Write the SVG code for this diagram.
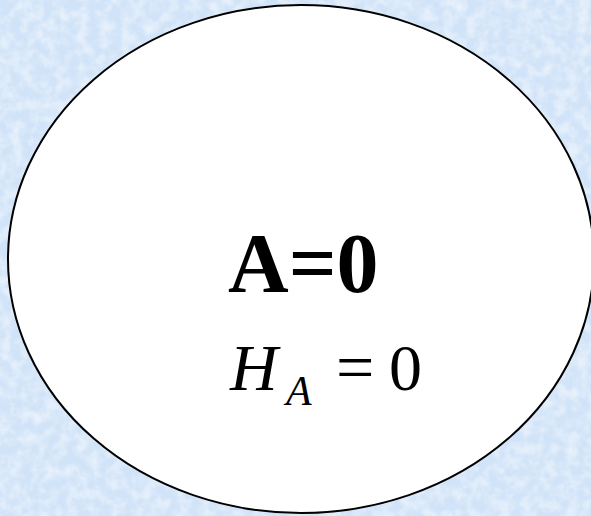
<svg xmlns="http://www.w3.org/2000/svg" width="591" height="516" viewBox="0 0 591 516">
<defs>
<filter id="tex" x="0" y="0" width="100%" height="100%">
<feTurbulence type="fractalNoise" baseFrequency="0.09" numOctaves="3" seed="4" result="n"/>
<feColorMatrix in="n" type="matrix" values="0 0 0 0 1  0 0 0 0 1  0 0 0 0 1  0 0 0 1.0 -0.35" result="w"/>
<feComposite in="w" in2="SourceGraphic" operator="over"/>
</filter>
</defs>
<style>
.bg{fill:#d0e3f8}
.shape{fill:#ffffff;stroke:#000000;stroke-width:2}
text{font-family:'Times New Roman','Liberation Serif','DejaVu Serif',serif;fill:#000}
</style>
<rect class="bg" x="0" y="0" width="591" height="516" filter="url(#tex)"/>
<g id="node-ellipse">
<ellipse class="shape" cx="301" cy="259" rx="293" ry="254"/>
<text x="228" y="292" font-size="84" font-weight="bold">A=0</text>
<text x="230" y="390" font-size="66" font-style="italic">H</text>
<text x="286" y="405" font-size="42" font-style="italic">A</text>
<text x="336" y="390" font-size="68">=</text>
<text x="389" y="390" font-size="66">0</text>
</g>
<g id="connectors"></g>
</svg>
